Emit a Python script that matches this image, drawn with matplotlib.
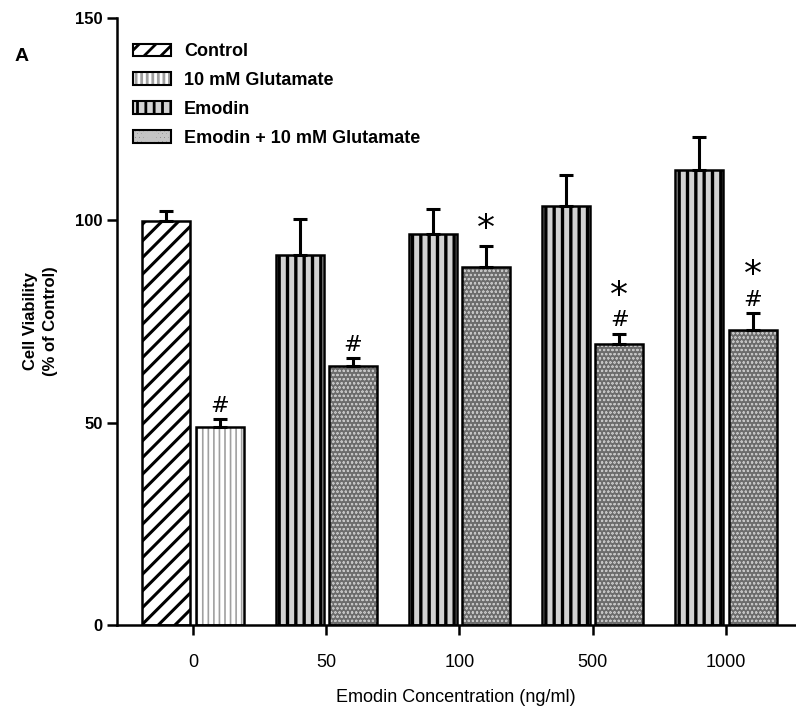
import numpy as np
import matplotlib
matplotlib.use("Agg")
import matplotlib.pyplot as plt
from matplotlib.patches import Patch

plt.rcParams['font.family'] = ['Liberation Sans', 'DejaVu Sans']
plt.rcParams['hatch.linewidth'] = 2.0

### data ###########################
concentrations = ['0', '50', '100', '500', '1000']
# left bar of each group: Control at 0, Emodin alone elsewhere
left_vals = [99.8, 91.5, 96.7, 103.5, 112.5]
left_err = [2.4, 8.9, 6.2, 7.6, 8.1]
# right bar of each group: 10 mM Glutamate at 0, Emodin + Glutamate elsewhere
right_vals = [49.0, 64.0, 88.5, 69.5, 73.0]
right_err = [1.9, 2.0, 5.1, 2.5, 4.1]
right_marks = ['#', '#', '*', '#*', '#*']
####################################

x = np.arange(len(concentrations))
w = 0.36
off = 0.2

fig = plt.figure(figsize=(7.96, 7.13), dpi=100)
ax = fig.add_axes([0.147, 0.1234, 0.852, 0.8514])

styles = {
    'Control': dict(face='white', hcol='black', hatch='//', hlw=2.2),
    '10 mM Glutamate': dict(face='white', hcol='#a0a0a0', hatch='|||', hlw=1.2),
    'Emodin': dict(face='#d2d2d2', hcol='black', hatch='||', hlw=2.4),
    'Emodin + 10 mM Glutamate': dict(face='#6c6c6c', hcol='#c4c4c4', hatch='oooo', hlw=0.5),
}


def set_hlw(p, lw):
    if hasattr(p, 'set_hatch_linewidth'):
        p.set_hatch_linewidth(lw)


def draw_bar(xpos, h, name):
    st = styles[name]
    b = ax.bar(xpos, h, w, color=st['face'], edgecolor=st['hcol'],
               hatch=st['hatch'], linewidth=0, zorder=2)
    for p in b:
        set_hlw(p, st['hlw'])
    ax.bar(xpos, h, w, fill=False, edgecolor='black', linewidth=1.8, zorder=3)


for i in range(len(concentrations)):
    lname = 'Control' if i == 0 else 'Emodin'
    rname = '10 mM Glutamate' if i == 0 else 'Emodin + 10 mM Glutamate'
    draw_bar(x[i] - off, left_vals[i], lname)
    draw_bar(x[i] + off, right_vals[i], rname)

ax.errorbar(x - off, left_vals, yerr=[np.zeros(5), left_err], fmt='none',
            ecolor='black', elinewidth=2.2, capsize=5, capthick=2.2, zorder=4)
ax.errorbar(x + off, right_vals, yerr=[np.zeros(5), right_err], fmt='none',
            ecolor='black', elinewidth=2.2, capsize=5, capthick=2.2, zorder=4)

# significance marks above the right bars
for i in range(len(concentrations)):
    y = right_vals[i] + right_err[i] + 0.8
    for m in right_marks[i]:
        if m == '#':
            ax.text(x[i] + off, y, '#', ha='center', va='bottom', fontsize=16,
                    family='DejaVu Sans')
            y += 5.2
        else:
            ax.text(x[i] + off, y - 0.8, '*', ha='center', va='bottom', fontsize=26,
                    family='DejaVu Sans')

ax.set_xlim(-0.57, 4.52)
ax.set_ylim(0, 150)
ax.set_yticks([0, 50, 100, 150])
ax.set_xticks(x)
ax.set_xticklabels(concentrations)
for s in ['top', 'right']:
    ax.spines[s].set_visible(False)
ax.spines['left'].set_linewidth(1.8)
ax.spines['bottom'].set_linewidth(1.8)
ax.tick_params(axis='both', width=1.8, length=7)
ax.tick_params(axis='y', labelsize=12)
ax.tick_params(axis='x', labelsize=13, pad=14)
for t in ax.get_yticklabels():
    t.set_fontweight('bold')

ax.set_ylabel('Cell Viability\n(% of Control)', fontsize=12, fontweight='bold', labelpad=12,
              linespacing=1.4)
ax.set_xlabel('Emodin Concentration (ng/ml)', fontsize=13, labelpad=13)

# legend: hatch layer + black outline drawn on top of each other
handles = []
for name, st in styles.items():
    fillp = Patch(facecolor=st['face'], edgecolor=st['hcol'], hatch=st['hatch'], linewidth=0)
    set_hlw(fillp, st['hlw'])
    edgep = Patch(fill=False, edgecolor='black', linewidth=1.5)
    handles.append((fillp, edgep))
leg = ax.legend(handles=handles, labels=list(styles.keys()),
                loc='upper left', bbox_to_anchor=(0.0, 0.985),
                frameon=False, prop={'weight': 'bold', 'size': 13},
                handlelength=2.1, handleheight=0.7, handletextpad=0.7,
                labelspacing=0.65)

fig.text(0.018, 0.915, 'A', fontsize=14, fontweight='bold')

fig.savefig('out.png', dpi=100, facecolor='white')
